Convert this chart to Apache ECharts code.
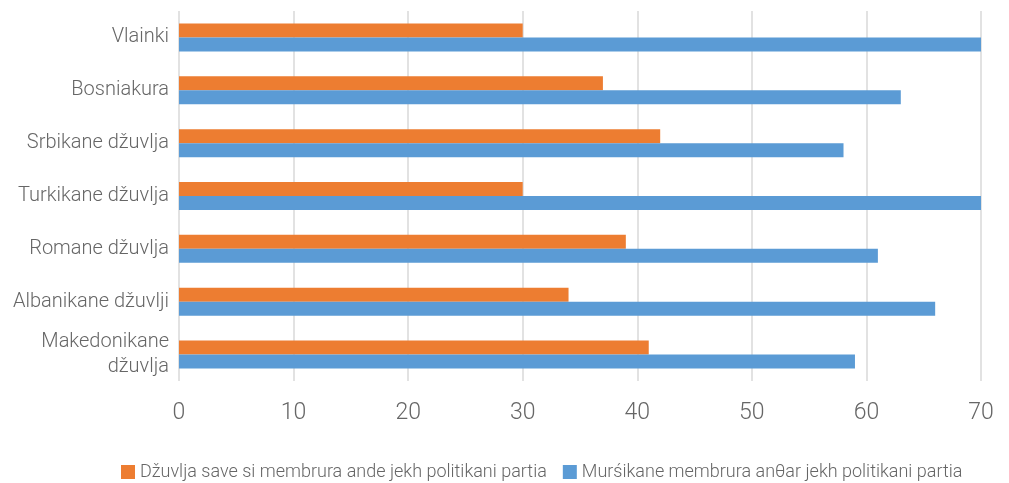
<!DOCTYPE html>
<html>
<head>
<meta charset="utf-8">
<script src="https://cdn.jsdelivr.net/npm/echarts@6/dist/echarts.min.js"></script>
<style>
  html, body { margin: 0; padding: 0; background: #fff; }
  #grafico { width: 1009px; height: 483px; }
</style>
</head>
<body>
<div id="grafico"></div>
<script>
// Dados (de cima para baixo)
const categorias = ['Vlainki', 'Bosniakura', 'Srbikane džuvlja', 'Turkikane džuvlja', 'Romane džuvlja', 'Albanikane džuvlji', 'Makedonikane\ndžuvlja'];
const membrura = [30, 37, 42, 30, 39, 34, 41];
const naMembrura = [70, 63, 58, 70, 61, 66, 59];
const nomeSerie1 = 'Džuvlja save si membrura ande jekh politikani partia';
const nomeSerie2 = 'Murśikane membrura anθar jekh politikani partia';

var chartDom = document.getElementById('grafico');
var myChart = echarts.init(chartDom);
var fonte = 'Roboto, "DejaVu Sans", sans-serif';
var option = {
    animation: false,
    textStyle: { fontFamily: fonte },
    legend: {
        data: [nomeSerie1, nomeSerie2],
        bottom: 2,
        left: 121,
        right: 0,
        padding: 0,
        itemWidth: 14,
        itemHeight: 14,
        itemGap: 16,
        icon: 'rect',
        textStyle: { fontSize: 18, color: '#666', fontFamily: fonte, fontWeight: 300 }
    },
    grid: {
        left: 179,
        right: 28,
        top: 11,
        height: 370
    },
    xAxis: {
        type: 'value',
        min: 0,
        max: 70,
        interval: 10,
        axisLine: { show: false },
        axisTick: { show: false },
        axisLabel: { fontSize: 23, color: '#666', margin: 21, fontWeight: 300 },
        splitLine: { lineStyle: { color: '#d9d9d9', width: 1.5 } }
    },
    yAxis: {
        type: 'category',
        inverse: true,
        data: categorias,
        axisLine: { show: false },
        axisTick: { show: false },
        axisLabel: { fontSize: 20, color: '#666', margin: 10, lineHeight: 25, fontWeight: 300 }
    },
    series: [
        {
            name: nomeSerie1,
            type: 'bar',
            data: membrura,
            barWidth: 14,
            barGap: '0%',
            itemStyle: { color: '#ED7D31' }
        },
        {
            name: nomeSerie2,
            type: 'bar',
            data: naMembrura,
            barWidth: 14,
            barGap: '0%',
            itemStyle: { color: '#5B9BD5' }
        }
    ]
};
option && myChart.setOption(option);
</script>
</body>
</html>
